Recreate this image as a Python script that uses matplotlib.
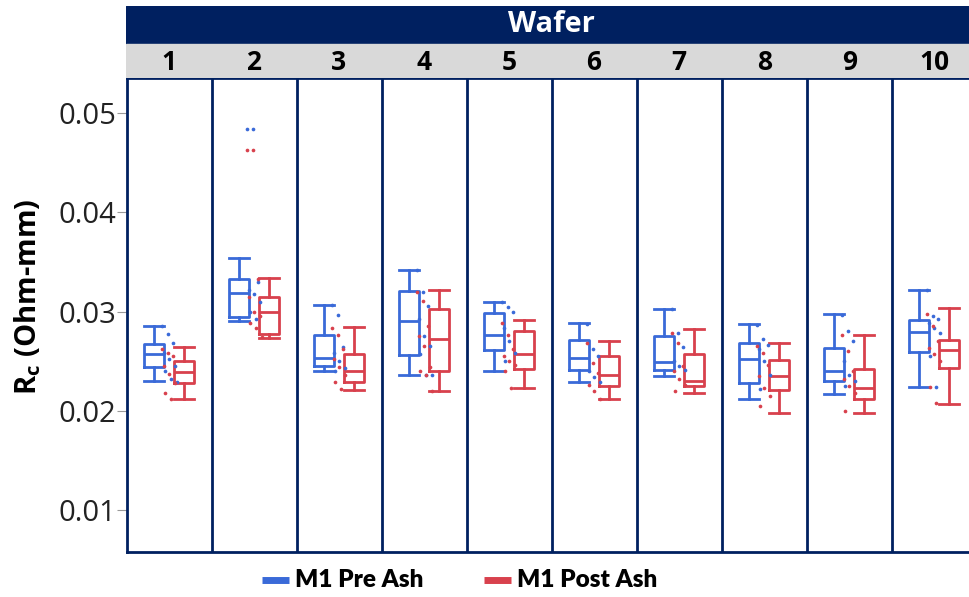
import numpy as np
import matplotlib
matplotlib.use("Agg")
import matplotlib.pyplot as plt
from matplotlib.lines import Line2D

# wafer numbers along the top strip
wafers = [1, 2, 3, 4, 5, 6, 7, 8, 9, 10]

# box stats: (whislo, q1, med, q3, whishi)
pre_stats = [
    (0.0230, 0.0244, 0.0257, 0.0267, 0.0285),
    (0.0290, 0.0294, 0.0319, 0.0333, 0.0354),
    (0.0240, 0.0245, 0.0253, 0.0276, 0.0307),
    (0.0236, 0.0256, 0.0290, 0.0321, 0.0342),
    (0.0240, 0.0261, 0.0276, 0.0299, 0.0310),
    (0.0229, 0.0241, 0.0253, 0.0271, 0.0288),
    (0.0235, 0.0241, 0.0249, 0.0275, 0.0303),
    (0.0212, 0.0228, 0.0252, 0.0268, 0.0287),
    (0.0217, 0.0230, 0.0240, 0.0263, 0.0298),
    (0.0224, 0.0259, 0.0279, 0.0291, 0.0322),
]
post_stats = [
    (0.0212, 0.0228, 0.0239, 0.0250, 0.0264),
    (0.0273, 0.0277, 0.0300, 0.0315, 0.0334),
    (0.0221, 0.0229, 0.0240, 0.0257, 0.0284),
    (0.0220, 0.0240, 0.0272, 0.0303, 0.0322),
    (0.0223, 0.0242, 0.0257, 0.0280, 0.0291),
    (0.0212, 0.0225, 0.0236, 0.0255, 0.0270),
    (0.0218, 0.0225, 0.0230, 0.0257, 0.0282),
    (0.0198, 0.0221, 0.0235, 0.0251, 0.0268),
    (0.0198, 0.0212, 0.0223, 0.0242, 0.0276),
    (0.0207, 0.0243, 0.0261, 0.0271, 0.0304),
]

# individual points (estimated)
pre_pts = [
    [0.0285, 0.0277, 0.0268, 0.0258, 0.0252, 0.0245, 0.0240, 0.0232, 0.0229],
    [0.0484, 0.0484, 0.0330, 0.0322, 0.0318, 0.0310, 0.0300, 0.0292],
    [0.0307, 0.0297, 0.0264, 0.0258, 0.0250, 0.0243, 0.0240],
    [0.0342, 0.0320, 0.0306, 0.0292, 0.0275, 0.0265, 0.0257, 0.0236, 0.0236],
    [0.0310, 0.0305, 0.0300, 0.0283, 0.0270, 0.0258, 0.0250],
    [0.0287, 0.0262, 0.0255, 0.0240, 0.0234, 0.0229],
    [0.0303, 0.0278, 0.0264, 0.0250, 0.0245, 0.0241],
    [0.0286, 0.0272, 0.0266, 0.0262, 0.0250, 0.0236, 0.0222],
    [0.0297, 0.0280, 0.0270, 0.0250, 0.0236, 0.0230, 0.0225],
    [0.0322, 0.0295, 0.0292, 0.0288, 0.0283, 0.0278, 0.0255, 0.0224],
]
post_pts = [
    [0.0262, 0.0258, 0.0255, 0.0245, 0.0237, 0.0228, 0.0218, 0.0212],
    [0.0463, 0.0463, 0.0333, 0.0315, 0.0300, 0.0295, 0.0288, 0.0283, 0.0274],
    [0.0283, 0.0276, 0.0262, 0.0252, 0.0244, 0.0236, 0.0229, 0.0222],
    [0.0320, 0.0311, 0.0285, 0.0275, 0.0265, 0.0244, 0.0240, 0.0236, 0.0220],
    [0.0288, 0.0276, 0.0262, 0.0255, 0.0250, 0.0246, 0.0240, 0.0223],
    [0.0268, 0.0248, 0.0238, 0.0226, 0.0220, 0.0212],
    [0.0278, 0.0268, 0.0245, 0.0240, 0.0232, 0.0226, 0.0220],
    [0.0265, 0.0258, 0.0246, 0.0235, 0.0223, 0.0215, 0.0205],
    [0.0276, 0.0260, 0.0240, 0.0232, 0.0225, 0.0218, 0.0200],
    [0.0298, 0.0285, 0.0270, 0.0263, 0.0257, 0.0250, 0.0224, 0.0208],
]

series_names = ["M1 Pre Ash", "M1 Post Ash"]
yticks = [0.01, 0.02, 0.03, 0.04, 0.05]

blue = "#3a6ad8"
red = "#d8414d"
navy = "#002060"
gray = "#d9d9d9"

W, H = 969, 597
fig = plt.figure(figsize=(W / 100, H / 100), dpi=100)

# main axes; right side runs off the figure like the original
x0, x1 = 127, 977
ax = fig.add_axes([x0 / W, 1 - 552 / H, (x1 - x0) / W, (552 - 78) / H])
ax.set_xlim(0.5, len(wafers) + 0.5)
ax.set_ylim(0.0058, 0.0535)


def make_stats(rows):
    return [dict(whislo=a, q1=b, med=c, q3=d, whishi=e, fliers=[]) for a, b, c, d, e in rows]


def jitter(n):
    return ((np.arange(n) * 0.37) % 1 - 0.5) * 0.18


for stats, pts, off, col in [(pre_stats, pre_pts, -0.18, blue), (post_stats, post_pts, 0.17, red)]:
    pos = [w + off for w in wafers]
    lp = dict(color=col, linewidth=2.0)
    ax.bxp(make_stats(stats), positions=pos, widths=0.24, showfliers=False,
           boxprops=lp, whiskerprops=lp, capprops=lp, medianprops=lp,
           capwidths=0.24, manage_ticks=False)
    for w, vals in zip(wafers, pts):
        xs = w + jitter(len(vals))
        ax.scatter(xs, vals, s=7, color=col, zorder=4, linewidths=0)

for w in wafers[:-1]:
    ax.axvline(w + 0.5, color=navy, lw=2.0)
for s in ax.spines.values():
    s.set_color(navy)
    s.set_linewidth(2.0)

ax.set_xticks([])
ax.set_yticks(yticks)
ax.set_yticklabels([f"{t:.2f}" for t in yticks], fontsize=21, color="#222222",
                   fontfamily="Open Sans")
ax.tick_params(axis="y", length=7, width=0.8, color="#999999", pad=1)

fig.text(28 / W, 1 - 297 / H, "R$_\\mathregular{c}$ (Ohm-mm)", rotation=90, ha="center",
         va="center", fontsize=21, fontweight="bold", fontfamily="Open Sans")

# header strip
hax = fig.add_axes([(x0 - 1) / W, 1 - 78 / H, (x1 - x0 + 1) / W, 72 / H])
hax.set_xlim(0.5, len(wafers) + 0.5)
hax.set_ylim(0, 1)
hax.axis("off")
hax.axhspan(0.47, 1, color=navy)
hax.axhspan(0, 0.47, color=gray)
hax.text(5.5, 0.74, "Wafer", ha="center", va="center", color="white",
         fontsize=21, fontweight="bold", fontfamily="Open Sans")
for w in wafers:
    hax.text(w, 0.22, str(w), ha="center", va="center", color="black",
             fontsize=19, fontweight="bold", fontfamily="Open Sans")

# legend drawn by hand so it sits where the original has it
leg_y = 1 - 580 / H
for (hx0, hx1), col, name in zip([(262, 289), (484, 511)], [blue, red], series_names):
    fig.add_artist(Line2D([hx0 / W, hx1 / W], [leg_y, leg_y], color=col, lw=5,
                          solid_capstyle="butt", transform=fig.transFigure))
    fig.text((hx1 + 6) / W, leg_y, name, ha="left", va="center", fontsize=17.5,
             fontweight="heavy", fontfamily="Lato")

fig.savefig("out.png", dpi=100)
